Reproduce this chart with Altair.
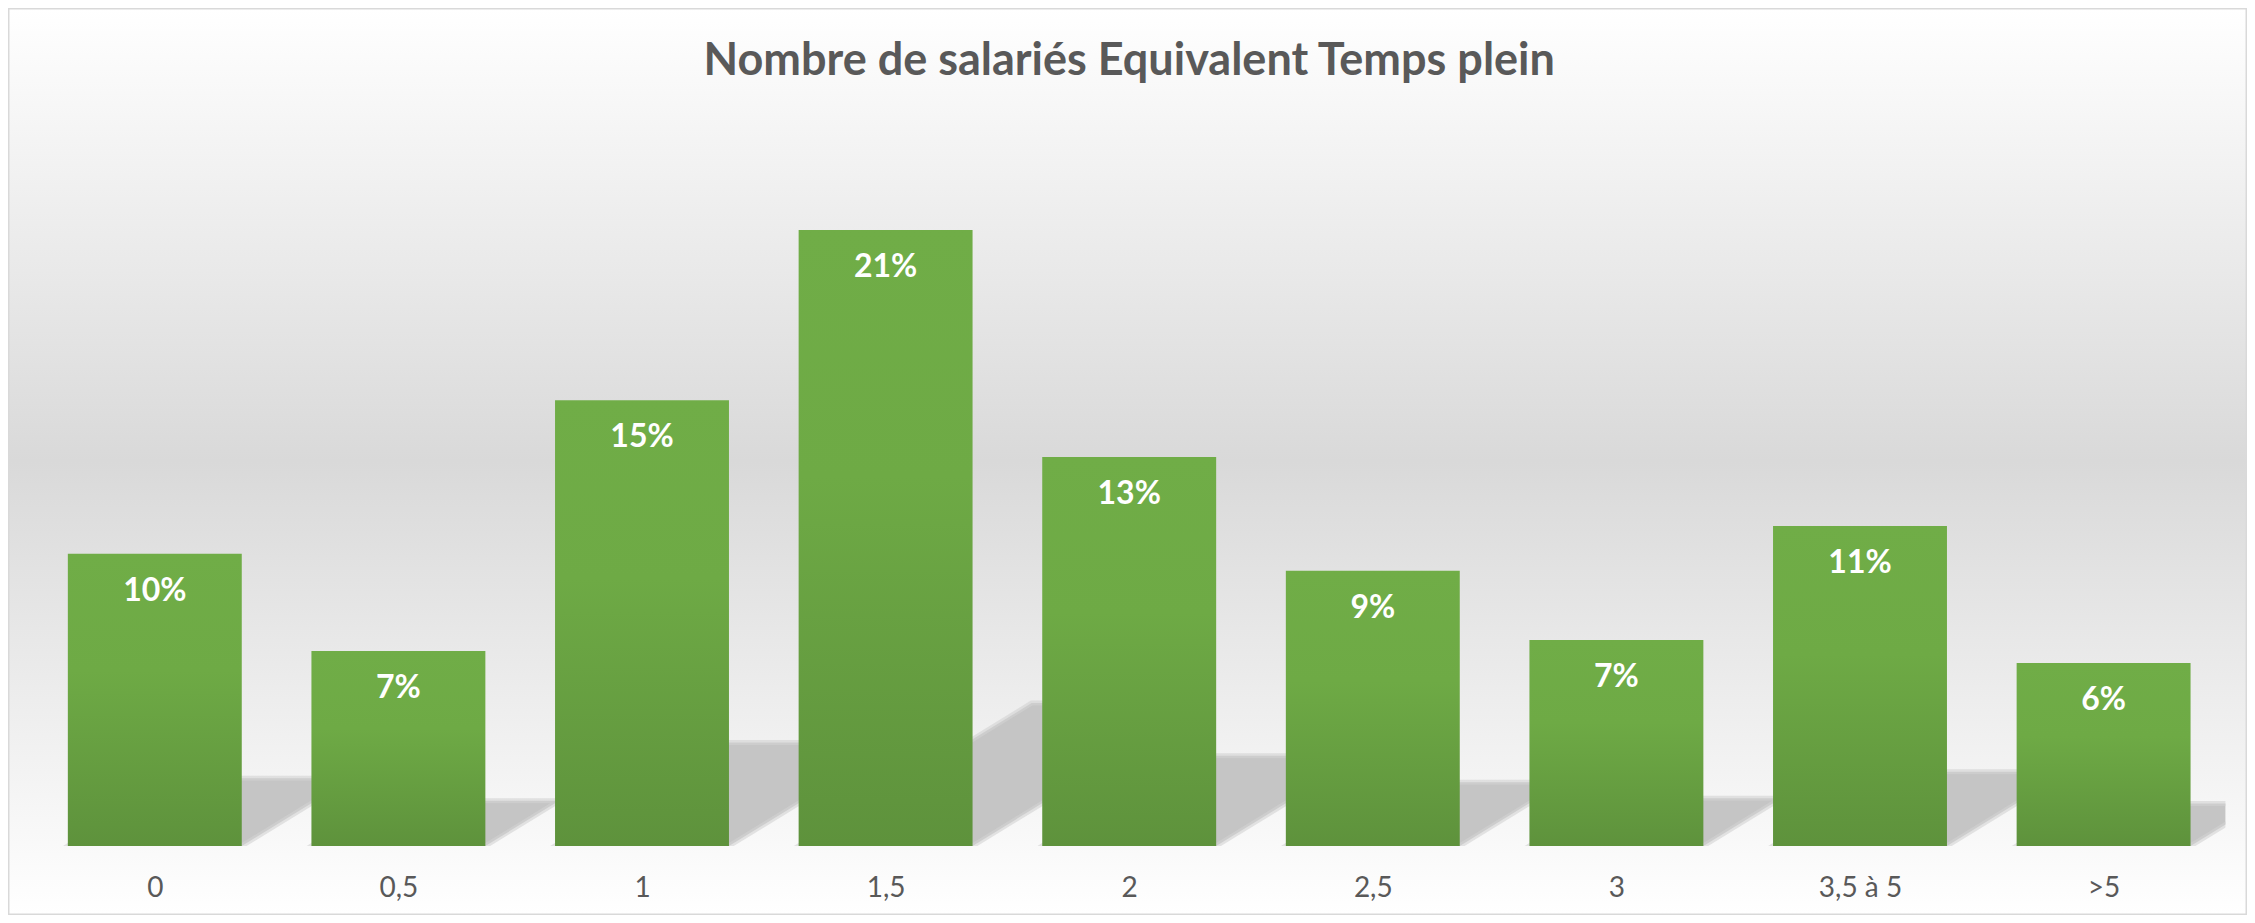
import json
import altair as alt
import pandas as pd

# ---- data ----
categories = ["0", "0,5", "1", "1,5", "2", "2,5", "3", "3,5 à 5", ">5"]
values = [0.0996, 0.0665, 0.1520, 0.2100, 0.1326, 0.0938, 0.0702, 0.1091, 0.0624]
title_text = "Nombre de salariés Equivalent Temps plein"

# ---- layout / style constants ----
W = 2192.4
H = 733.3
Y_MAX = 0.25
PAD_L, PAD_R, PAD_T, PAD_B = 25, 21.6, 104.7, 69
BAR_HALF = 0.357
SHADOW_RATIO = 0.232
SHADOW_SLANT = 1.63
FONT = "Lato"
GREY_TEXT = "#595959"
TITLE_OFFSET = -112

px_per_unit_y = H / Y_MAX
step_px = W / len(categories)

bars = pd.DataFrame({"cat": categories, "value": values, "pos": list(range(len(categories)))})
bars["x0"] = bars["pos"] - BAR_HALF
bars["x1"] = bars["pos"] + BAR_HALF

rows = []
for i, v in enumerate(values):
    hs = SHADOW_RATIO * v
    dx = SHADOW_SLANT * hs * px_per_unit_y / step_px
    L, R = i - BAR_HALF, i + BAR_HALF
    for x in sorted([L, R, L + dx, R + dx]):
        top = max(0.0, min(hs, hs * (x - L) / dx))
        bot = max(0.0, min(hs, hs * (x - R) / dx))
        rows.append({"cat": categories[i], "sx": x, "top": top, "bot": bot})
shadows = pd.DataFrame(rows)

xs = alt.Scale(domain=[-0.5, len(categories) - 0.5], nice=False, zero=False)
ys = alt.Scale(domain=[0, Y_MAX], nice=False, zero=True)

label_expr = json.dumps(categories, ensure_ascii=False) + "[datum.value]"
x_axis = alt.Axis(
    values=list(range(len(categories))), labelExpr=label_expr, title=None,
    ticks=False, domain=False, grid=False, labelPadding=50,
    labelFont=FONT, labelFontSize=28, labelColor=GREY_TEXT,
    labelBaseline="alphabetic", labelFlush=False, labelOverlap=False,
    zindex=2,
)

bg_gradient = {
    "gradient": "linear", "x1": 0, "y1": 0, "x2": 0, "y2": 1,
    "stops": [
        {"offset": 0, "color": "#ffffff"},
        {"offset": 0.5, "color": "#d9d9d9"},
        {"offset": 1, "color": "#ffffff"},
    ],
}
bar_gradient = {
    "gradient": "linear", "x1": 0, "y1": 0, "x2": 0, "y2": 1,
    "stops": [
        {"offset": 0, "color": "#70AD47"},
        {"offset": 0.4, "color": "#6EAA45"},
        {"offset": 1, "color": "#5E923C"},
    ],
}

background = alt.Chart(pd.DataFrame({"k": [0]})).mark_rect(
    fill=bg_gradient, stroke="#d9d9d9", strokeWidth=1.5
).encode(
    x=alt.value(-PAD_L + 0.75),
    x2=alt.value(W + PAD_R - 0.75),
    y=alt.value(-PAD_T + 0.75),
    y2=alt.value(H + PAD_B - 0.75),
)

shadow_layer = alt.Chart(shadows).mark_area(
    orient="vertical", clip=True, fill="#c5c5c5", stroke="#d2d2d2", strokeWidth=5, strokeOpacity=0.6
).encode(
    x=alt.X("sx:Q", scale=xs, axis=x_axis),
    y=alt.Y("top:Q", scale=ys, axis=None, stack=None),
    y2="bot:Q",
    detail="cat:N",
)

bar_layer = alt.Chart(bars).mark_rect(fill=bar_gradient).encode(
    x=alt.X("x0:Q", scale=xs, axis=x_axis),
    x2="x1:Q",
    y=alt.Y("value:Q", scale=ys, axis=None),
    y2=alt.datum(0),
)

text_layer = alt.Chart(bars).mark_text(
    dy=47, baseline="alphabetic", color="white", fontSize=32, fontWeight="bold", font=FONT
).encode(
    x=alt.X("pos:Q", scale=xs, axis=x_axis),
    y=alt.Y("value:Q", scale=ys, axis=None),
    text=alt.Text("value:Q", format=".0%"),
)

chart = alt.layer(background, shadow_layer, bar_layer, text_layer).properties(
    width=W,
    height=H,
    padding={"left": PAD_L, "right": PAD_R, "top": PAD_T, "bottom": PAD_B},
    autosize=alt.AutoSizeParams(type="none"),
    background="white",
    title=alt.TitleParams(
        text=title_text, frame="group", anchor="middle", orient="top",
        offset=TITLE_OFFSET, baseline="alphabetic", font=FONT, fontSize=45,
        fontWeight="bold", color=GREY_TEXT, zindex=2,
    ),
).configure_view(strokeWidth=0)

chart.save("out.html", embed_options={"renderer": "svg", "actions": False})
